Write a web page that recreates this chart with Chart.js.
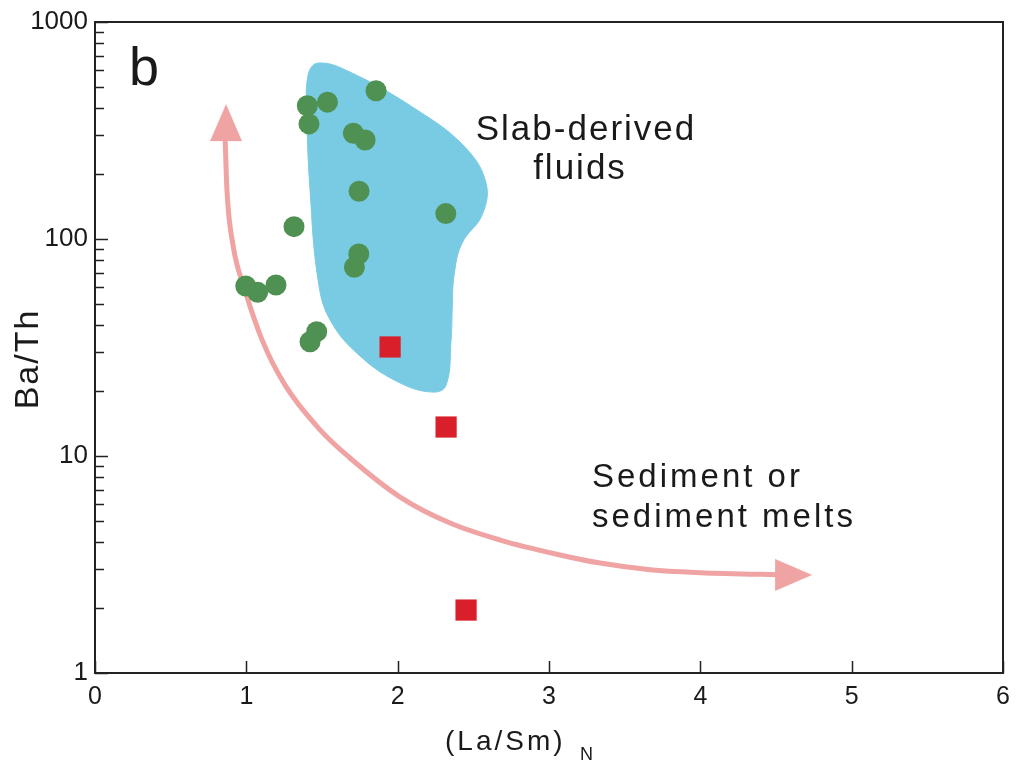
<!DOCTYPE html>
<html>
<head>
<meta charset="utf-8">
<script src="https://cdn.jsdelivr.net/npm/chart.js@4.4.0/dist/chart.umd.min.js"></script>
<style>
  html, body { margin: 0; padding: 0; background: #fff; }
</style>
</head>
<body>
<canvas id="chart" width="1016" height="769"></canvas>
<script>
// axes
const xTicks = [0, 1, 2, 3, 4, 5, 6];
const yTicks = [1, 10, 100, 1000];
const yMinor = [2, 3, 4, 5, 6, 7, 8, 9, 20, 30, 40, 50, 60, 70, 80, 90, 200, 300, 400, 500, 600, 700, 800, 900];

// green circles
const circleX = [1.857, 1.403, 1.536, 1.414, 1.707, 1.785, 1.745, 2.318, 1.315, 1.743, 1.714, 0.996, 1.075, 1.196, 1.465, 1.421];
const circleY = [482, 411, 427, 339, 307, 286, 166, 131, 114, 85.3, 74.1, 60.7, 56.8, 61.4, 37.4, 33.6];

// red squares
const squareX = [1.95, 2.32, 2.452];
const squareY = [31.8, 13.6, 1.95];

// slab-derived fluids field (outline)
const fieldX = [2.360, 2.353, 2.320, 2.234, 2.016, 1.751, 1.553, 1.474, 1.421, 1.401, 1.408, 1.474, 1.685, 2.128, 2.445, 2.584, 2.558, 2.426, 2.373, 2.360];
const fieldY = [47.1, 34.2, 21.2, 19.7, 21.7, 28.9, 42.4, 64.7, 168, 353, 570, 647, 588, 393, 265, 181, 129, 95.9, 68.3, 47.1];

// curved trend arrow
const arrowX = [0.859, 0.872, 0.912, 0.991, 1.104, 1.256, 1.487, 1.685, 2.016, 2.346, 2.677, 3.073, 3.338, 3.668, 4.0, 4.594];
const arrowY = [301, 168, 93.8, 58.2, 34.3, 21.2, 13.2, 9.79, 6.47, 4.91, 4.10, 3.50, 3.21, 2.99, 2.90, 2.83];
const headX = [0.866, 4.613];
const headY = [342, 2.83];
const headRot = [0, 90];

const FONT = "'Liberation Sans', Arial, sans-serif";
const INK = '#1a1a1a';
const PINK = '#efa3a3';

const pts = (xs, ys) => xs.map((x, i) => ({ x: x, y: ys[i] }));

// arrowhead image, tip pointing up
const head = document.createElement('canvas');
head.width = 40; head.height = 40;
const hc = head.getContext('2d');
hc.fillStyle = PINK;
hc.beginPath();
hc.moveTo(20, 1);
hc.lineTo(36, 38);
hc.lineTo(4, 38);
hc.closePath();
hc.fill();

const decor = {
    id: 'decor',
    afterDraw(chart) {
        const ctx = chart.ctx;
        const a = chart.chartArea;
        const xs = chart.scales.x, ys = chart.scales.y;
        ctx.save();
        ctx.strokeStyle = '#222';
        ctx.lineWidth = 1.5;
        ctx.beginPath();
        xTicks.forEach(v => {
            const px = Math.round(xs.getPixelForValue(v)) + 0.5;
            ctx.moveTo(px, a.bottom); ctx.lineTo(px, a.bottom - 12);
        });
        yTicks.forEach(v => {
            const py = Math.round(ys.getPixelForValue(v)) + 0.5;
            ctx.moveTo(a.left, py); ctx.lineTo(a.left + 13, py);
        });
        yMinor.forEach(v => {
            const py = Math.round(ys.getPixelForValue(v)) + 0.5;
            ctx.moveTo(a.left, py); ctx.lineTo(a.left + 9, py);
        });
        ctx.stroke();
        ctx.lineWidth = 2;
        ctx.strokeRect(a.left, a.top, a.right - a.left, a.bottom - a.top);

        ctx.fillStyle = INK;
        ctx.textBaseline = 'alphabetic';
        ctx.textAlign = 'left';
        ctx.font = '54px ' + FONT;
        ctx.fillText('b', 129, 85);

        ctx.letterSpacing = '2px';
        ctx.font = '35px ' + FONT;
        ctx.textAlign = 'center';
        ctx.fillText('Slab-derived', 586, 140);
        ctx.fillText('fluids', 580, 179);

        ctx.letterSpacing = '3px';
        ctx.font = '33px ' + FONT;
        ctx.textAlign = 'left';
        ctx.fillText('Sediment or', 592, 487);
        ctx.fillText('sediment melts', 592, 527);

        // axis titles
        ctx.letterSpacing = '3px';
        ctx.font = '28px ' + FONT;
        ctx.fillText('(La/Sm', 445, 750);
        const w = ctx.measureText('(La/Sm').width;
        ctx.letterSpacing = '0px';
        ctx.fillText(')', 445 + w, 750);
        ctx.font = '18px ' + FONT;
        ctx.fillText('N', 580, 760);

        ctx.letterSpacing = '2px';
        ctx.font = '34px ' + FONT;
        ctx.translate(38, 359);
        ctx.rotate(-Math.PI / 2);
        ctx.textAlign = 'center';
        ctx.fillText('Ba/Th', 0, 0);
        ctx.restore();
    }
};

new Chart(document.getElementById('chart'), {
    type: 'scatter',
    data: {
        datasets: [
            {
                label: 'squares',
                data: pts(squareX, squareY),
                pointStyle: 'rect',
                pointRadius: 15,
                backgroundColor: '#d9202a',
                borderWidth: 0,
                order: 0
            },
            {
                label: 'circles',
                data: pts(circleX, circleY),
                pointStyle: 'circle',
                pointRadius: 10.5,
                backgroundColor: '#4f9153',
                borderWidth: 0,
                order: 1
            },
            {
                label: 'heads',
                data: pts(headX, headY),
                pointStyle: head,
                pointRotation: headRot,
                pointRadius: 20,
                order: 2
            },
            {
                type: 'line',
                label: 'arrow',
                data: pts(arrowX, arrowY),
                borderColor: PINK,
                borderWidth: 5,
                pointRadius: 0,
                cubicInterpolationMode: 'monotone',
                fill: false,
                order: 3
            },
            {
                type: 'line',
                label: 'field',
                data: pts(fieldX, fieldY),
                borderColor: '#79cbe3',
                backgroundColor: '#79cbe3',
                borderWidth: 1,
                pointRadius: 0,
                tension: 0.4,
                fill: 'shape',
                order: 4
            }
        ]
    },
    options: {
        responsive: false,
        animation: false,
        events: [],
        layout: { autoPadding: false, padding: { top: 22, right: 13, left: 0, bottom: 0 } },
        plugins: { legend: { display: false }, tooltip: { enabled: false } },
        scales: {
            x: {
                type: 'linear',
                min: 0,
                max: 6,
                afterBuildTicks: s => { s.ticks = xTicks.map(v => ({ value: v })); },
                afterFit: s => { s.height = 96; s.paddingLeft = 0; s.paddingRight = 0; },
                grid: { display: false, drawTicks: false },
                border: { display: false },
                ticks: { color: INK, padding: 9, maxRotation: 0, font: { size: 25, family: FONT } }
            },
            y: {
                type: 'logarithmic',
                min: 1,
                max: 1000,
                afterBuildTicks: s => { s.ticks = yTicks.map(v => ({ value: v })); },
                afterFit: s => { s.width = 95; s.paddingTop = 0; s.paddingBottom = 0; },
                grid: { display: false, drawTicks: false },
                border: { display: false },
                ticks: { color: INK, padding: 7, font: { size: 26, family: FONT }, callback: v => String(v) }
            }
        }
    },
    plugins: [decor]
});
</script>
</body>
</html>
